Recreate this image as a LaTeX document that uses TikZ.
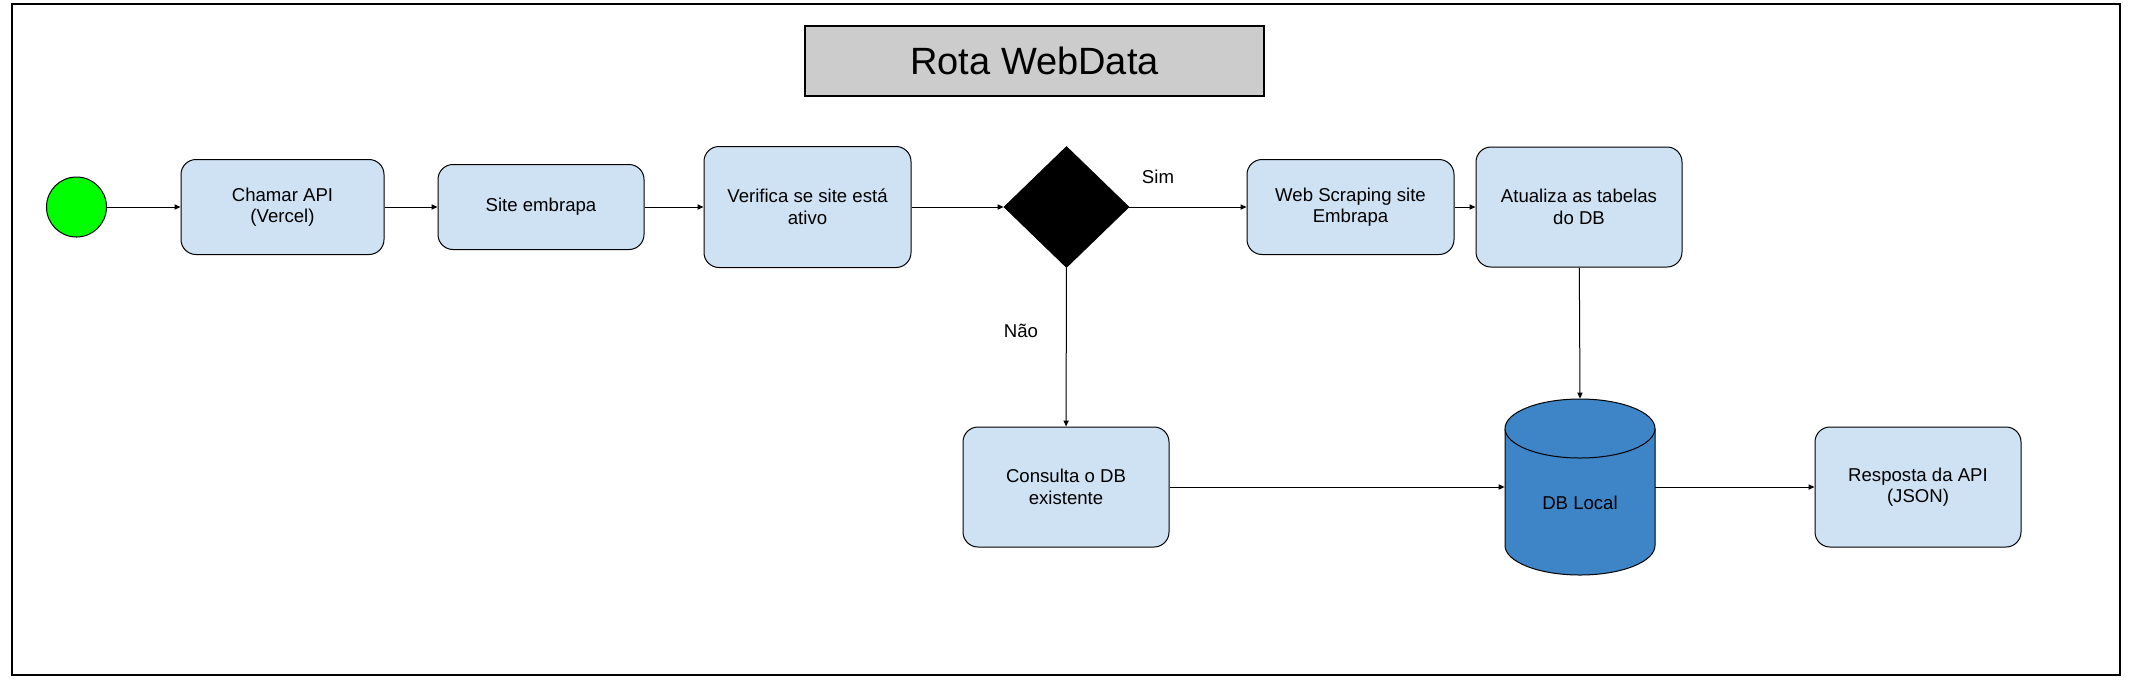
\documentclass[tikz,border=0pt]{standalone}
\usepackage{fontspec}
\setmainfont{Liberation Sans}
\usetikzlibrary{shapes.geometric,arrows.meta}
\definecolor{boxblue}{HTML}{CFE2F3}
\definecolor{dbblue}{HTML}{3D85C6}
\definecolor{titlegray}{HTML}{CCCCCC}
\definecolor{startgreen}{HTML}{00FF00}
\begin{document}
\begin{tikzpicture}[x=0.5pt,y=-0.5pt,
  font=\fontsize{9.3pt}{10.8pt}\selectfont,
  stepbox/.style={draw, line width=0.5pt, rounded corners=7.5pt, fill=boxblue, align=center, inner sep=0pt},
  conn/.style={-{Triangle[length=3pt,width=2.6pt]}, line width=0.5pt},
  lbl/.style={inner sep=0pt}]
\useasboundingbox (0,0) rectangle (2138,693);
% frame
\node[draw, line width=0.75pt, minimum width=1054pt, minimum height=335.5pt, inner sep=0pt] (frame) at (1066,339.5) {};
% title
\node[draw, line width=0.6pt, fill=titlegray, minimum width=229.5pt, minimum height=35pt, inner sep=0pt,
      font=\fontsize{19pt}{22pt}\selectfont] (title) at (1034.5,61) {Rota WebData};
% start
\node[draw, circle, fill=startgreen, line width=0.5pt, minimum size=30pt, inner sep=0pt] (start) at (76.5,207) {};
% steps
\node[stepbox, minimum width=101.5pt, minimum height=47.5pt] (chamar) at (282.5,207) {Chamar API\\(Vercel)};
\node[stepbox, minimum width=103pt, minimum height=42.5pt] (site) at (541,207) {Site embrapa};
\node[stepbox, minimum width=103.5pt, minimum height=60.5pt] (verifica) at (807.5,207) {Verifica se site está\\ativo};
\node[draw, diamond, fill=black, minimum width=62.5pt, minimum height=60.5pt, inner sep=0pt] (dec) at (1066.5,207) {};
\node[stepbox, minimum width=103.5pt, minimum height=47.5pt] (scrap) at (1350.5,207) {Web Scraping site\\Embrapa};
\node[stepbox, minimum width=103pt, minimum height=60pt] (atual) at (1579,207) {Atualiza as tabelas\\do DB};
\node[stepbox, minimum width=103pt, minimum height=60pt] (consulta) at (1066,487) {Consulta o DB\\existente};
\node[stepbox, minimum width=103pt, minimum height=60pt] (resposta) at (1918,487) {Resposta da API\\(JSON)};
% database cylinder
\node[minimum width=75pt, minimum height=88pt, inner sep=0pt] (db) at (1580,487) {};
\fill[dbblue] (1505,428.5) -- (1505,545.5) arc[start angle=180, end angle=360, x radius=37.5pt, y radius=14.75pt] -- (1655,428.5) -- cycle;
\draw[line width=0.5pt] (1505,428.5) -- (1505,545.5) arc[start angle=180, end angle=360, x radius=37.5pt, y radius=14.75pt] -- (1655,428.5);
\filldraw[fill=dbblue, line width=0.5pt] (1580,428.5) ellipse[x radius=37.5pt, y radius=14.75pt];
\node[lbl] (dblabel) at (1580,503) {DB Local};
% connectors
\draw[conn] (start) -- (chamar);
\draw[conn] (chamar) -- (site);
\draw[conn] (site) -- (verifica);
\draw[conn] (verifica) -- (dec);
\draw[conn] (dec) -- (scrap);
\draw[conn] (dec) -- (consulta);
\draw[conn] (scrap) -- (atual);
\draw[conn] (atual) -- (db.north);
\draw[conn] (consulta) -- (db.west);
\draw[conn] (db.east) -- (resposta);
% labels
\node[lbl] (sim) at (1158,177) {Sim};
\node[lbl] (nao) at (1021,331) {Não};
\end{tikzpicture}
\end{document}
